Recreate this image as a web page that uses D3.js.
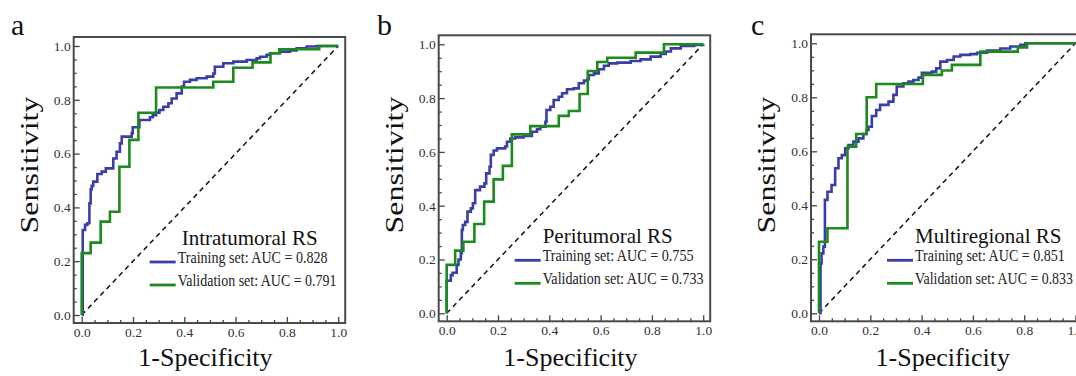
<!DOCTYPE html>
<html><head><meta charset="utf-8">
<script src="https://cdn.jsdelivr.net/npm/d3@7"></script>
<style>
html,body{margin:0;padding:0;background:#fff;}
svg{display:block;}
</style></head>
<body>
<script>
// ---------- DATA ----------
const panelLetters = ["a", "b", "c"];
const modelNames = ["Intratumoral RS", "Peritumoral RS", "Multiregional RS"];
const trainAUC = ["0.828", "0.755", "0.851"];
const validAUC = ["0.791", "0.733", "0.833"];
const majorTicks = [0, 0.2, 0.4, 0.6, 0.8, 1.0];
const tickLabels = ["0.0", "0.2", "0.4", "0.6", "0.8", "1.0"];
const minorTicks = [0.05,0.1,0.15,0.25,0.3,0.35,0.45,0.5,0.55,0.65,0.7,0.75,0.85,0.9,0.95];

// ROC points [1-specificity, sensitivity] (step after)
const trainA = [[0,0],[0.004,0.173],[0.004,0.316],[0.013,0.335],[0.022,0.341],[0.03,0.415],[0.035,0.467],[0.039,0.48],[0.045,0.496],[0.061,0.524],[0.078,0.533],[0.094,0.545],[0.123,0.582],[0.136,0.607],[0.149,0.638],[0.156,0.663],[0.195,0.676],[0.199,0.698],[0.225,0.725],[0.266,0.735],[0.277,0.743],[0.29,0.752],[0.303,0.762],[0.318,0.774],[0.338,0.787],[0.351,0.805],[0.37,0.824],[0.39,0.849],[0.399,0.867],[0.422,0.874],[0.448,0.88],[0.487,0.886],[0.513,0.898],[0.519,0.923],[0.552,0.936],[0.591,0.942],[0.643,0.948],[0.682,0.954],[0.695,0.96],[0.721,0.967],[0.734,0.973],[0.773,0.979],[0.812,0.983],[0.838,0.991],[0.877,0.998],[0.916,1.0],[1,1]];
const validA = [[0,0],[0,0.23],[0.035,0.269],[0.074,0.347],[0.11,0.384],[0.147,0.551],[0.186,0.651],[0.221,0.752],[0.29,0.846],[0.513,0.867],[0.591,0.919],[0.666,0.939],[0.736,0.973],[0.77,0.988],[0.926,1.0],[1.0,1.0]];
const trainB = [[0,0],[0,0.074],[0,0.121],[0.016,0.142],[0.023,0.151],[0.039,0.18],[0.046,0.2],[0.055,0.223],[0.059,0.31],[0.063,0.328],[0.072,0.34],[0.081,0.378],[0.094,0.39],[0.102,0.409],[0.111,0.458],[0.13,0.471],[0.147,0.483],[0.154,0.52],[0.167,0.545],[0.172,0.589],[0.183,0.605],[0.196,0.613],[0.228,0.62],[0.235,0.638],[0.248,0.65],[0.267,0.654],[0.3,0.659],[0.332,0.675],[0.352,0.684],[0.365,0.694],[0.385,0.712],[0.389,0.756],[0.404,0.768],[0.417,0.793],[0.437,0.805],[0.45,0.818],[0.469,0.833],[0.495,0.836],[0.515,0.855],[0.535,0.865],[0.548,0.87],[0.554,0.886],[0.574,0.892],[0.593,0.907],[0.613,0.92],[0.632,0.929],[0.665,0.932],[0.717,0.938],[0.756,0.944],[0.795,0.954],[0.834,0.964],[0.854,0.973],[0.874,0.985],[0.913,0.994],[0.965,0.998],[1,1]];
const validB = [[0,0],[0,0.18],[0.033,0.233],[0.065,0.266],[0.108,0.332],[0.146,0.415],[0.183,0.498],[0.219,0.548],[0.254,0.665],[0.326,0.696],[0.437,0.734],[0.476,0.752],[0.518,0.815],[0.55,0.901],[0.587,0.934],[0.626,0.95],[0.737,0.969],[0.847,1.0],[1.0,1.0]];
const trainC = [[0,0],[0.006,0.185],[0.01,0.222],[0.017,0.247],[0.023,0.42],[0.033,0.45],[0.049,0.475],[0.063,0.537],[0.076,0.574],[0.089,0.586],[0.102,0.611],[0.115,0.623],[0.134,0.636],[0.154,0.648],[0.173,0.664],[0.186,0.679],[0.193,0.691],[0.206,0.731],[0.223,0.753],[0.238,0.772],[0.271,0.784],[0.29,0.809],[0.303,0.84],[0.329,0.852],[0.349,0.858],[0.368,0.864],[0.388,0.873],[0.401,0.891],[0.44,0.895],[0.457,0.907],[0.473,0.932],[0.499,0.938],[0.525,0.951],[0.551,0.957],[0.59,0.96],[0.616,0.965],[0.655,0.973],[0.707,0.981],[0.746,0.988],[0.785,0.994],[0.805,1.0],[1,1]];
const validC = [[0,0],[0,0.265],[0.033,0.315],[0.111,0.617],[0.145,0.664],[0.186,0.8],[0.223,0.849],[0.405,0.883],[0.479,0.899],[0.518,0.92],[0.629,0.969],[0.775,0.985],[0.811,1.0],[1.0,1.0]];
const trainSeries = [trainA, trainB, trainC];
const validSeries = [validA, validB, validC];

// ---------- LAYOUT ----------
const W = 1076, H = 376;
const plotW = 256.5;
const layout = [
  {x0: 81.7, y1: 46.0, y0: 315.0, titleDx: 100, letterX: 11, tLen: 150, vLen: 159},
  {x0: 446.7, y1: 44.3, y0: 313.3, titleDx: 96, letterX: 377, tLen: 151, vLen: 161},
  {x0: 819.0, y1: 43.3, y0: 313.3, titleDx: 96, letterX: 751, tLen: 150, vLen: 158}
];
const FONT = "Liberation Serif, Times New Roman, serif";
const BLUE = "#3b3ea6", GREEN = "#1d8a1d";

const svg = d3.select("body").append("svg").attr("width", W).attr("height", H)
  .style("font-family", FONT);
svg.append("rect").attr("width", W).attr("height", H).attr("fill", "#fff");

layout.forEach((L, i) => {
  const x = d3.scaleLinear().domain([0, 1]).range([L.x0, L.x0 + plotW]);
  const y = d3.scaleLinear().domain([0, 1]).range([L.y0, L.y1]);
  const fL = x(0) - 8, fR = x(1) + 7, fT = y(1) - 9, fB = y(0) + 8;
  const g = svg.append("g");

  // panel letter
  g.append("text").attr("x", L.letterX).attr("y", 35).attr("font-size", 30)
    .attr("fill", "#111").text(panelLetters[i]);

  // axes (ticks inward)
  g.append("g").attr("transform", `translate(0,${fB})`)
    .call(d3.axisBottom(x).tickValues(majorTicks).tickSize(-6).tickPadding(4)
      .tickFormat((d, k) => tickLabels[k]));
  g.append("g").attr("transform", `translate(0,${fB})`)
    .call(d3.axisBottom(x).tickValues(minorTicks).tickSize(-3).tickFormat(""));
  g.append("g").attr("transform", `translate(${fL},0)`)
    .call(d3.axisLeft(y).tickValues(majorTicks).tickSize(-6).tickPadding(3)
      .tickFormat((d, k) => tickLabels[k]));
  g.append("g").attr("transform", `translate(${fL},0)`)
    .call(d3.axisLeft(y).tickValues(minorTicks).tickSize(-3).tickFormat(""));
  g.selectAll(".domain").remove();
  g.selectAll("g[font-family]").attr("font-family", null);
  g.selectAll(".tick line").attr("stroke", "#444").attr("stroke-width", 1.3);
  g.selectAll(".tick text").style("font-family", FONT).attr("font-size", 13.5).attr("fill", "#333");

  // frame
  g.append("rect").attr("x", fL).attr("y", fT).attr("width", fR - fL).attr("height", fB - fT)
    .attr("fill", "none").attr("stroke", "#4a4a4a").attr("stroke-width", 2);

  // diagonal reference
  g.append("line").attr("x1", x(0)).attr("y1", y(0)).attr("x2", x(1)).attr("y2", y(1))
    .attr("stroke", "#111").attr("stroke-width", 1.5).attr("stroke-dasharray", "5,4");

  const line = d3.line().x(d => x(d[0])).y(d => y(d[1])).curve(d3.curveStepAfter);
  g.append("path").attr("d", line(trainSeries[i])).attr("fill", "none")
    .attr("stroke", BLUE).attr("stroke-width", 2.6);
  g.append("path").attr("d", line(validSeries[i])).attr("fill", "none")
    .attr("stroke", GREEN).attr("stroke-width", 2.6);

  // axis titles
  g.append("text").attr("x", (fL + fR) / 2 - 4).attr("y", 366).attr("text-anchor", "middle")
    .attr("font-size", 26).attr("fill", "#111").text("1-Specificity");
  const sens = g.append("text").attr("text-anchor", "middle").attr("font-size", 26)
    .attr("fill", "#111").text("Sensitivity");
  const sw = sens.node().getComputedTextLength() || 137;
  sens.attr("transform", `translate(${fL - 36},165) rotate(-90) scale(${137 / sw},1)`);

  // legend
  g.append("text").attr("x", x(0) + L.titleDx).attr("y", y(0) - 70)
    .attr("font-size", 21).attr("fill", "#111").text(modelNames[i]);
  const rows = [
    {c: BLUE, t: `Training set: AUC = ${trainAUC[i]}`, dy: -53, len: L.tLen},
    {c: GREEN, t: `Validation set: AUC = ${validAUC[i]}`, dy: -30, len: L.vLen}
  ];
  rows.forEach(r => {
    const ly = y(0) + r.dy;
    g.append("line").attr("x1", x(0) + 68).attr("x2", x(0) + 94).attr("y1", ly).attr("y2", ly)
      .attr("stroke", r.c).attr("stroke-width", 2.8);
    const t = g.append("text").attr("x", 0).attr("y", 0).attr("font-size", 16.5)
      .attr("fill", "#222").text(r.t);
    const w = t.node().getComputedTextLength() || r.len;
    t.attr("transform", `translate(${x(0) + 96},${ly + 1}) scale(${r.len / w},1)`);
  });
});
</script>
</body></html>
